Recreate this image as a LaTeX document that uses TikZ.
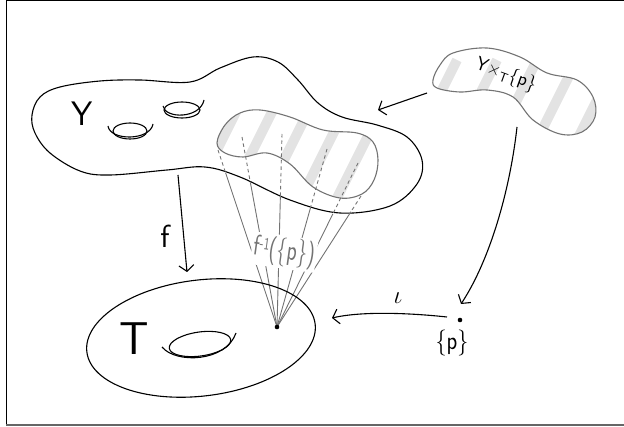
\documentclass[tikz,border=0pt]{standalone}
\usetikzlibrary{arrows.meta,calc}
\begin{document}
\begin{tikzpicture}[x=1pt,y=-1pt,
  line/.style={line width=1.1pt, black},
  conn/.style={line width=1.1pt, black, -{Straight Barb[length=6pt,width=15pt,line width=1.1pt]}},
  fandash/.style={line width=0.9pt, black!55, dash pattern=on 3.5pt off 3pt},
  fansolid/.style={line width=0.9pt, black!55},
  stripe/.style={line width=10pt, black!11},
  innerline/.style={line width=1.1pt, black!55},
  lbl/.style={font=\sffamily, inner sep=0pt},
]
\useasboundingbox (0,0) rectangle (624,427);
% frame
\draw[line width=1pt, black] (624,1) -- (6.5,1) -- (6.5,425);
\draw[line width=2pt, black!60] (6,425) -- (624,425);

% Y blob
\draw[line] plot[smooth cycle, tension=0.6] coordinates {
 (32,115) (40,97) (60,87) (100,81) (140,80) (190,82) (220,68) (253,57) (278,62)
 (298,80) (318,103) (342,117) (377,125) (407,137) (422,160) (417,184) (390,206)
 (340,213) (290,200) (240,177) (205,167) (167,170) (110,175) (80,171) (50,153) (35,133)};
% holes in Y
\draw[line] (130,131) ellipse [x radius=17, y radius=8];
\draw[line] (108,126) .. controls (110,141) and (150,141) .. (153,124);
\draw[line] (182,110) ellipse [x radius=18, y radius=8];
\draw[line] (163,106) .. controls (165,119) and (200,119) .. (204,100);
\node[lbl, font=\sffamily\fontsize{34}{34}\selectfont] (Ylab) at (82,114) {Y};

% fibre region
\begin{scope}
\clip plot[smooth cycle, tension=0.6] coordinates {
 (217,143) (225,125) (240,113) (260,110) (290,117) (323,130) (357,133) (373,142)
 (378,160) (374,180) (362,194) (340,198) (313,187) (290,164) (267,153) (243,157) (225,153)};
\foreach \k in {0,...,9} \draw[stripe] ({110+\k*36},220) -- ++(80,-160);
\end{scope}
\draw[innerline] plot[smooth cycle, tension=0.6] coordinates {
 (217,143) (225,125) (240,113) (260,110) (290,117) (323,130) (357,133) (373,142)
 (378,160) (374,180) (362,194) (340,198) (313,187) (290,164) (267,153) (243,157) (225,153)};

% fan of lines
\coordinate (apex) at (277,327);
\foreach \n/\tx/\ty/\s in {1/218/150/0.13, 2/242/137/0.24, 3/282/134/0.32, 4/327/149/0.32, 5/358/163/0.31, 6/361/196/0.12} {
  \coordinate (t\n) at (\tx,\ty);
  \coordinate (m\n) at ($(t\n)!\s!(apex)$);
  \draw[fandash] (t\n) -- (m\n);
  \draw[fansolid] (m\n) -- (apex);
}
\node[lbl, fill=white, inner sep=2pt, text=black!55, rotate=-8, xscale=0.72,
  font=\sffamily\fontsize{29}{29}\selectfont] (fib) at (284,252)
  {f\raisebox{0.55ex}{\scalebox{0.6}{-1}}(\{p\})};
\fill (apex) circle (2.3);

% T ellipse
\draw[line, rotate around={7:(201,338)}] (201,338) ellipse [x radius=115, y radius=58];
\draw[line, rotate around={8:(200,344)}] (200,344) ellipse [x radius=31, y radius=12];
\draw[line] (162,347) .. controls (176,364) and (226,362) .. (236,333);
\node[lbl, font=\sffamily\fontsize{46}{46}\selectfont] (Tlab) at (134,339) {T};

% arrow f
\coordinate (fstart) at (178,175);
\coordinate (fend) at (187,272);
\draw[conn] (fstart) -- (fend);
\node[lbl, font=\sffamily\fontsize{32}{32}\selectfont] (flab) at (165,236) {f};

% right blob
\begin{scope}
\clip plot[smooth cycle, tension=0.6] coordinates {
 (433,80) (440,65) (453,53) (487,48) (520,57) (547,73) (577,80) (593,97) (595,117)
 (582,132) (560,134) (533,120) (513,97) (487,90) (460,92) (437,88)};
\foreach \k in {0,...,8} \draw[stripe] ({337+\k*40},220) -- ++(80,-160);
\end{scope}
\draw[innerline] plot[smooth cycle, tension=0.6] coordinates {
 (433,80) (440,65) (453,53) (487,48) (520,57) (547,73) (577,80) (593,97) (595,117)
 (582,132) (560,134) (533,120) (513,97) (487,90) (460,92) (437,88)};
\node[lbl, rotate=-20, font=\sffamily\fontsize{19}{19}\selectfont] (prodlab) at (506,75)
  {Y×\textsubscript{T}\{p\}};

% point p
\coordinate (p) at (460,320);
\fill (p) circle (2.3);
\node[lbl, font=\sffamily\fontsize{26}{26}\selectfont, xscale=0.85] (plab) at (452,343) {\{p\}};

% arrows
\coordinate (rleft) at (427,93);
\coordinate (yright) at (378,110);
\draw[conn] (rleft) -- (yright);
\coordinate (rbot) at (517,127);
\coordinate (ptop) at (461,304);
\draw[conn] (rbot) .. controls (510,190) and (490,260) .. (ptop);
\coordinate (pleft) at (447,317);
\coordinate (tright) at (332,318);
\draw[conn] (pleft) .. controls (410,313) and (362,311) .. (tright);
\node[lbl, font=\fontsize{30}{30}\selectfont] (iotalab) at (398,298) {$\iota$};
\end{tikzpicture}
\end{document}
